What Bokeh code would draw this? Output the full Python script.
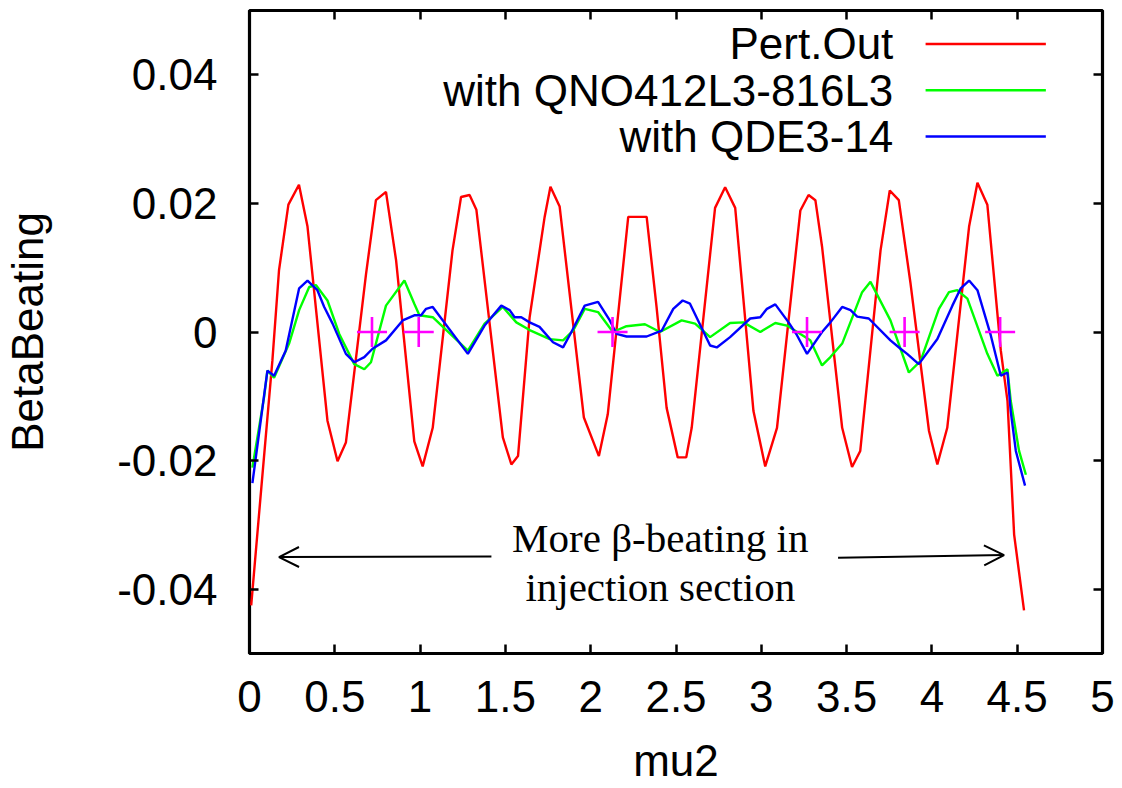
from bokeh.plotting import figure
from bokeh.models import (Range1d, LinearAxis, FixedTicker, CustomJSTickFormatter,
                          Label, Arrow, OpenHead)
from bokeh.embed import file_html
from bokeh.resources import INLINE

# ---------------- data ----------------
X_TICKS = [0, 0.5, 1, 1.5, 2, 2.5, 3, 3.5, 4, 4.5, 5]
Y_TICKS = [-0.04, -0.02, 0, 0.02, 0.04]

pert_x = [0.01, 0.07, 0.134, 0.173, 0.228, 0.29, 0.34, 0.457, 0.516, 0.565, 0.683, 0.741,
          0.80, 0.859, 0.966, 1.015, 1.074, 1.19, 1.24, 1.29, 1.33, 1.485, 1.535, 1.574,
          1.642, 1.73, 1.764, 1.818, 1.96, 2.048, 2.10, 2.22, 2.328, 2.386, 2.445, 2.51,
          2.56, 2.592, 2.729, 2.788, 2.847, 2.954, 3.023, 3.092, 3.229, 3.277, 3.317, 3.356,
          3.474, 3.532, 3.58, 3.699, 3.753, 3.806, 3.875, 3.983, 4.032, 4.09, 4.218, 4.267,
          4.325, 4.404, 4.443, 4.482, 4.54]
pert_y = [-0.0425, -0.024, -0.0045, 0.0096, 0.0198, 0.0229, 0.0164, -0.0138, -0.0201, -0.0172,
          0.009, 0.0205, 0.0218, 0.0112, -0.017, -0.0209, -0.0149, 0.0127, 0.021, 0.0213,
          0.019, -0.0164, -0.0206, -0.0193, 0.0023, 0.0179, 0.0226, 0.0195, -0.0133, -0.0193,
          -0.0128, 0.0179, 0.0179, 0.0039, -0.0118, -0.0195, -0.0195, -0.0149, 0.0193, 0.0225,
          0.0193, -0.0123, -0.0209, -0.0149, 0.0189, 0.0213, 0.0205, 0.0133, -0.0149, -0.021,
          -0.0185, 0.0127, 0.022, 0.0205, 0.0075, -0.0154, -0.0206, -0.0149, 0.0164, 0.0232,
          0.0198, -0.0029, -0.0107, -0.0315, -0.0433]

qno_x = [0.017, 0.085, 0.105, 0.144, 0.232, 0.291, 0.35, 0.389, 0.457, 0.526, 0.614, 0.673,
         0.712, 0.80, 0.908, 0.966, 0.996, 1.074, 1.28, 1.378, 1.485, 1.564, 1.642, 1.76,
         1.838, 1.897, 1.965, 2.043, 2.13, 2.21, 2.318, 2.406, 2.533, 2.612, 2.70, 2.817,
         2.895, 2.994, 3.082, 3.15, 3.287, 3.356, 3.405, 3.474, 3.591, 3.64, 3.757, 3.865,
         3.934, 4.041, 4.10, 4.149, 4.208, 4.325, 4.384, 4.443, 4.462, 4.511, 4.551]
qno_y = [-0.0211, -0.0102, -0.006, -0.0071, -0.0018, 0.0034, 0.007, 0.0073, 0.0049, -0.0003,
         -0.005, -0.0058, -0.0047, 0.0041, 0.008, 0.0044, 0.0026, 0.0023, -0.0029, 0.0013,
         0.0039, 0.0015, 0.0003, -0.0011, -0.0013, 0.0002, 0.0036, 0.0031, 0.0, 0.0009,
         0.0012, 0.0, 0.0018, 0.0013, -0.0008, 0.0014, 0.0015, 0.0, 0.0014, 0.001, -0.0013,
         -0.0052, -0.0039, -0.0018, 0.0062, 0.0078, 0.0018, -0.0063, -0.0045, 0.0036, 0.0062,
         0.0065, 0.0052, -0.0034, -0.0068, -0.0058, -0.0107, -0.0185, -0.0222]

qde_x = [0.017, 0.105, 0.144, 0.212, 0.291, 0.34, 0.398, 0.438, 0.487, 0.565, 0.614, 0.673,
         0.721, 0.80, 0.898, 0.966, 1.006, 1.035, 1.074, 1.28, 1.378, 1.476, 1.525, 1.554,
         1.593, 1.642, 1.70, 1.779, 1.838, 1.887, 1.965, 2.043, 2.112, 2.152, 2.21, 2.328,
         2.416, 2.484, 2.539, 2.582, 2.70, 2.739, 2.817, 2.935, 2.994, 3.033, 3.082, 3.16,
         3.209, 3.268, 3.356, 3.405, 3.474, 3.523, 3.562, 3.63, 3.757, 3.816, 3.855, 3.923,
         4.032, 4.12, 4.169, 4.218, 4.267, 4.345, 4.404, 4.443, 4.462, 4.492, 4.546]
qde_y = [-0.0235, -0.006, -0.0068, -0.0029, 0.0068, 0.008, 0.0065, 0.0039, 0.0013, -0.0034,
         -0.0047, -0.0039, -0.0026, -0.0013, 0.0018, 0.0026, 0.0026, 0.0036, 0.0039, -0.0034,
         0.001, 0.0041, 0.0034, 0.0023, 0.0023, 0.0015, 0.0008, -0.0016, -0.0024, 0.0,
         0.0041, 0.0047, 0.0018, -0.0003, -0.0007, -0.0007, 0.0002, 0.0036, 0.0049, 0.0044,
         -0.0021, -0.0024, -0.0008, 0.0021, 0.0023, 0.0036, 0.0043, 0.0015, -0.0005, -0.0034,
         0.0, 0.0015, 0.0039, 0.0034, 0.0024, 0.0021, -0.0013, -0.0026, -0.0034, -0.005,
         -0.0011, 0.0041, 0.0068, 0.008, 0.0065, -0.0005, -0.0068, -0.0063, -0.0123, -0.0185,
         -0.0239]

marker_x = [0.718, 0.992, 2.128, 3.268, 3.84, 4.40]
marker_y = [0, 0, 0, 0, 0, 0]

series_names = ["Pert.Out", "with QNO412L3-816L3", "with QDE3-14"]
series_colors = ["#ff0000", "#00ff00", "#0000ff"]

note_lines = ["More \u03b2-beating in", "injection section"]

# ---------------- figure ----------------
SANS = "Liberation Sans"
FS = "44px"

p = figure(width=1120, height=787, output_backend="svg", toolbar_location=None,
           x_range=Range1d(0, 5), y_range=Range1d(-0.05, 0.05),
           min_border_left=249, min_border_right=18, min_border_top=10,
           min_border_bottom=130)
p.grid.visible = False
p.outline_line_color = "black"
p.outline_line_width = 3.2
p.background_fill_color = "white"
p.border_fill_color = "white"

fmt = CustomJSTickFormatter(code="return parseFloat(tick.toFixed(3)).toString();")
blank = CustomJSTickFormatter(code="return '';")


def style_axis(ax, ticks, labels=True):
    ax.ticker = FixedTicker(ticks=ticks)
    ax.axis_line_color = None
    ax.major_tick_in = 9
    ax.major_tick_out = 0
    ax.major_tick_line_width = 2.5
    ax.major_tick_line_color = "black"
    ax.minor_tick_line_color = None
    ax.major_label_text_font = SANS
    ax.major_label_text_color = "black"
    ax.axis_label_text_font = SANS
    ax.axis_label_text_font_size = FS
    ax.axis_label_text_font_style = "normal"
    ax.axis_label_text_color = "black"
    if labels:
        ax.formatter = fmt
        ax.major_label_text_font_size = FS
    else:
        ax.formatter = blank
        ax.major_label_text_font_size = "1px"
        ax.major_label_standoff = 0


style_axis(p.xaxis[0], X_TICKS)
style_axis(p.yaxis[0], Y_TICKS)
p.xaxis[0].major_label_standoff = 27
p.yaxis[0].major_label_standoff = 32
p.xaxis[0].axis_label = "mu2"
p.yaxis[0].axis_label = "BetaBeating"
p.xaxis[0].axis_label_standoff = 21
p.yaxis[0].axis_label_standoff = 62

top = LinearAxis()
style_axis(top, X_TICKS, labels=False)
p.add_layout(top, "above")
right = LinearAxis()
style_axis(right, Y_TICKS, labels=False)
p.add_layout(right, "right")

# ---------------- data lines ----------------
p.line(pert_x, pert_y, line_color=series_colors[0], line_width=2.4)
p.line(qno_x, qno_y, line_color=series_colors[1], line_width=2.4)
p.line(qde_x, qde_y, line_color=series_colors[2], line_width=2.4)
p.scatter(marker_x, marker_y, marker="cross", size=30, line_color="#ff00ff",
          line_width=2.6)

# ---------------- legend (text right-aligned, sample line to its right) ----------------
leg_y = [0.0448, 0.0376, 0.0304]
leg_text_x = 3.774
leg_line_x0, leg_line_x1 = 3.963, 4.668
for name, col, yy in zip(series_names, series_colors, leg_y):
    p.add_layout(Label(x=leg_text_x, y=yy, text=name, text_align="right",
                       text_baseline="middle", text_font=SANS, text_font_size=FS,
                       text_color="black"))
    p.add_layout(Arrow(end=None, x_start=leg_line_x0, y_start=yy, x_end=leg_line_x1,
                       y_end=yy, line_color=col, line_width=2.4))

# ---------------- annotation ----------------
NOTE_FONT = "Liberation Serif"
p.add_layout(Label(x=2.408, y=-0.0321, text=note_lines[0], text_align="center",
                   text_baseline="middle", text_font=NOTE_FONT,
                   text_font_size="41px", text_color="black"))
p.add_layout(Label(x=2.408, y=-0.0396, text=note_lines[1], text_align="center",
                   text_baseline="middle", text_font=NOTE_FONT,
                   text_font_size="41px", text_color="black"))
p.add_layout(Arrow(end=OpenHead(size=20, line_width=2, line_color="black"),
                   x_start=1.418, y_start=-0.0349, x_end=0.173, y_end=-0.035,
                   line_width=2, line_color="black"))
p.add_layout(Arrow(end=OpenHead(size=20, line_width=2, line_color="black"),
                   x_start=3.45, y_start=-0.0351, x_end=4.423, y_end=-0.0347,
                   line_width=2, line_color="black"))

open("out.html", "w").write(file_html(p, INLINE))
